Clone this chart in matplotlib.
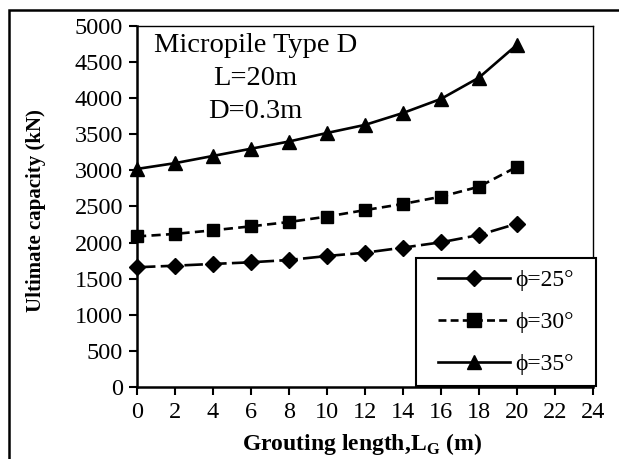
import numpy as np
import matplotlib.pyplot as plt
from matplotlib.lines import Line2D
from matplotlib.patches import Rectangle

plt.rcParams['font.family'] = ['Liberation Serif', 'DejaVu Serif']
plt.rcParams['mathtext.fontset'] = 'custom'
plt.rcParams['mathtext.rm'] = 'Liberation Serif'
plt.rcParams['mathtext.bf'] = 'Liberation Serif:bold'

# grouting length (m)
grout_len = [0, 2, 4, 6, 8, 10, 12, 14, 16, 18, 20]
# ultimate capacity (kN)
cap_phi25 = [1658, 1680, 1704, 1727, 1759, 1814, 1860, 1930, 2004, 2105, 2262]
cap_phi30 = [2085, 2120, 2170, 2225, 2285, 2360, 2450, 2535, 2636, 2774, 3050]
cap_phi35 = [3020, 3100, 3200, 3300, 3400, 3518, 3630, 3795, 3990, 4285, 4740]
labels = ['\u03d5=25\u00b0', '\u03d5=30\u00b0', '\u03d5=35\u00b0']

fig = plt.figure(figsize=(6.19, 4.59), dpi=100)
ax = fig.add_axes([0.2213, 0.1569, 0.7367, 0.7865])

lw = 1.9
ax.plot(grout_len, cap_phi25, color='black', lw=lw, dashes=(7, 2),
        marker='D', ms=8, clip_on=False)
ax.plot(grout_len, cap_phi30, color='black', lw=lw, dashes=(3.5, 2),
        marker='s', ms=9, clip_on=False)
ax.plot(grout_len, cap_phi35, color='black', lw=lw, linestyle='-',
        marker='^', ms=10, clip_on=False)

ax.set_xlim(0, 24)
ax.set_ylim(0, 5000)
ax.set_xticks(np.arange(0, 25, 2))
ax.set_yticks(np.arange(0, 5001, 500))
ax.tick_params(axis='both', direction='out', length=6, width=1.5,
               labelsize=17.5, colors='black')
ax.tick_params(axis='x', pad=5)
ax.tick_params(axis='y', pad=4)
for side in ['left', 'bottom']:
    ax.spines[side].set_linewidth(1.8)
for side in ['top', 'right']:
    ax.spines[side].set_linewidth(1.0)

ax.set_ylabel('Ultimate capacity (kN)', fontsize=15, fontweight='bold')
ax.yaxis.set_label_coords(-0.20, 0.49)
ax.set_xlabel(r'Grouting length,L$_\mathbf{G}$ (m)', fontsize=17,
              fontweight='bold')
ax.xaxis.set_label_coords(0.493, -0.122)

ax.text(0.26, 0.98, 'Micropile Type D\nL=20m\nD=0.3m', transform=ax.transAxes,
        ha='center', va='top', fontsize=20.5, linespacing=1.42)

# legend box (drawn separately, wider padding at the sides)
ax.add_patch(Rectangle((0.612, 0.003), 0.3946, 0.354, transform=ax.transAxes,
                       facecolor='white', edgecolor='black', lw=1.5,
                       zorder=4, clip_on=False))
handles = [
    Line2D([], [], color='black', lw=lw, marker='D', ms=8),
    Line2D([], [], color='black', lw=lw, dashes=(3, 1.6), marker='s', ms=10),
    Line2D([], [], color='black', lw=lw, marker='^', ms=10),
]
leg = ax.legend(handles, labels, loc='center', bbox_to_anchor=(0.809, 0.179),
                fontsize=17, frameon=False, handlelength=3.05,
                handletextpad=0.25, labelspacing=0.88, borderpad=0.0,
                borderaxespad=0.0)
leg.set_zorder(5)

# outer border of the picture
fig.add_artist(Rectangle((9 / 619, -0.1), 1.2, 1.1 - 10 / 459,
                         transform=fig.transFigure, fill=False,
                         edgecolor='black', lw=1.8))

fig.savefig('out.png', dpi=100)
